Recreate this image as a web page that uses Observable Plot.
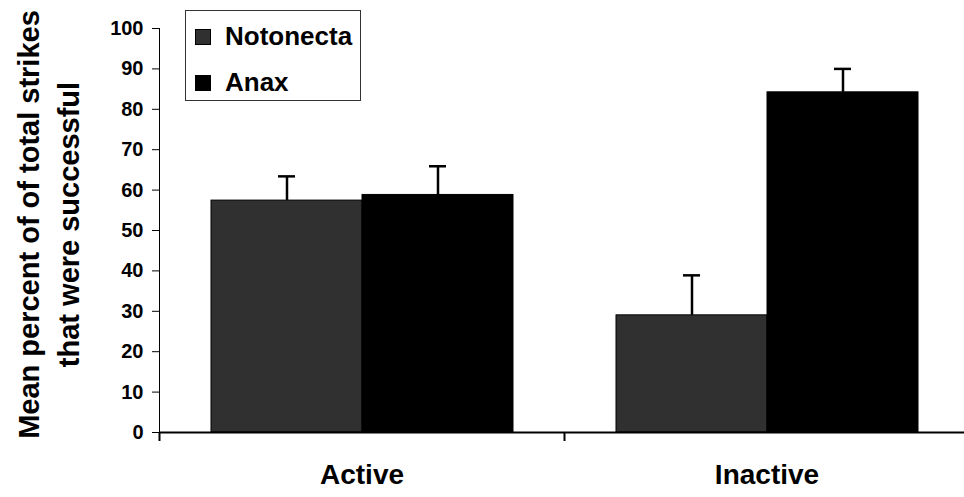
<!DOCTYPE html>
<html>
<head>
<meta charset="utf-8">
<script src="https://cdn.jsdelivr.net/npm/d3@7"></script>
<script src="https://cdn.jsdelivr.net/npm/@observablehq/plot@0.6"></script>
<style>
  html, body { margin: 0; padding: 0; background: white; }
  #wrap { position: relative; width: 964px; height: 497px; font-family: "Liberation Sans", Arial, sans-serif; }
  #legend { position: absolute; left: 185px; top: 10px; width: 176px; height: 91px; box-sizing: border-box; border: 1px solid #333; background: white; }
  .row { position: absolute; left: 0; height: 26px; }
  .sw { position: absolute; left: 9px; top: 6px; width: 16px; height: 16px; border: 1px solid #000; box-sizing: border-box; }
  .lab { position: absolute; left: 39px; top: 0; font-size: 26px; line-height: 26px; font-weight: bold; letter-spacing: 0px; color: #000; white-space: nowrap; }
</style>
</head>
<body>
<div id="wrap"></div>
<script>
const categories = ["Active", "Inactive"];
const series = ["Notonecta", "Anax"];
const notonectaMeans = [57.4, 29.0];
const anaxMeans = [58.8, 84.2];
const notonectaErrors = [6.0, 9.9];
const anaxErrors = [7.1, 5.8];
const yTicks = [0, 10, 20, 30, 40, 50, 60, 70, 80, 90, 100];
const seriesColors = ["#303030", "#000000"];
const yTitleLines = ["Mean percent of of total strikes", "that were successful"];

const means = [notonectaMeans, anaxMeans];
const errors = [notonectaErrors, anaxErrors];
const rows = [];
categories.forEach((c, i) => {
  series.forEach((s, j) => {
    rows.push({category: c, series: s, mean: means[j][i], err: errors[j][i]});
  });
});

const font = "'Liberation Sans', Arial, sans-serif";

const chart = Plot.plot({
  width: 964,
  height: 497,
  marginLeft: 159,
  marginRight: -5,
  marginTop: 28,
  marginBottom: 65,
  style: {fontFamily: font, fontWeight: "bold", fontSize: "20px", background: "white", color: "black", overflow: "visible"},
  fx: {domain: categories, padding: 0, label: null},
  x: {domain: series, paddingInner: 0, paddingOuter: 0.336, axis: null},
  y: {domain: [0, 100], ticks: yTicks, tickSize: 7, tickPadding: 9, label: null, line: true},
  color: {domain: series, range: seriesColors},
  marks: [
    Plot.barY(rows, {fx: "category", x: "series", y: "mean", fill: "series", stroke: "#000", strokeWidth: 1}),
    Plot.ruleX(rows, {fx: "category", x: "series", y1: "mean", y2: d => d.mean + d.err, stroke: "#000", strokeWidth: 2.5}),
    Plot.tickY(rows, {fx: "category", x: "series", y: d => d.mean + d.err, stroke: "#000", strokeWidth: 2.5, insetLeft: 67, insetRight: 67}),
    Plot.ruleY([0], {stroke: "#000", strokeWidth: 2}),
    Plot.axisFx({anchor: "bottom", tickSize: 9, fill: "none", label: null, dx: -202.5, strokeWidth: 2}),
    Plot.axisFx({anchor: "bottom", tickSize: 0, tickPadding: 32, fontSize: 28, label: null}),
    Plot.text([{fx: categories[0], t: yTitleLines[0]}], {fx: "fx", text: "t", frameAnchor: "left", textAnchor: "middle", rotate: -90, dx: -130, dy: -6, fontSize: 29, fontWeight: "bold", fill: "#000"}),
    Plot.text([{fx: categories[0], t: yTitleLines[1]}], {fx: "fx", text: "t", frameAnchor: "left", textAnchor: "middle", rotate: -90, dx: -90, dy: -6, fontSize: 29, fontWeight: "bold", fill: "#000"})
  ]
});

const wrap = document.getElementById("wrap");
wrap.appendChild(chart);

const legend = document.createElement("div");
legend.id = "legend";
series.forEach((s, j) => {
  const row = document.createElement("div");
  row.className = "row";
  row.style.top = (12 + j * 46) + "px";
  const sw = document.createElement("div");
  sw.className = "sw";
  sw.style.background = seriesColors[j];
  const lab = document.createElement("div");
  lab.className = "lab";
  lab.textContent = s;
  row.appendChild(sw);
  row.appendChild(lab);
  legend.appendChild(row);
});
wrap.appendChild(legend);
</script>
</body>
</html>
